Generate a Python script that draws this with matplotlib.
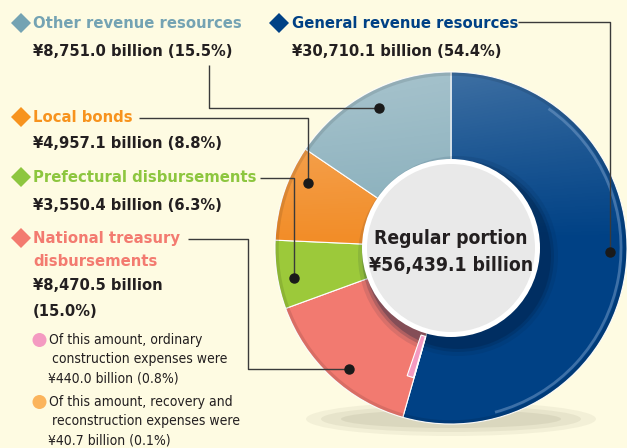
import os
import numpy as np
import matplotlib
matplotlib.use("Agg")
import matplotlib.pyplot as plt
from matplotlib import font_manager as fm
from matplotlib.patches import Wedge, Circle, Polygon, Ellipse, Arc

# ---- data (¥ billion) ----
labels = ["General revenue resources", "National treasury disbursements",
          "Prefectural disbursements", "Local bonds", "Other revenue resources"]
amounts = [30710.1, 8470.5, 3550.4, 4957.1, 8751.0]
shares = [54.4, 15.0, 6.3, 8.8, 15.5]
total_label = "Regular portion"

# parts of the national treasury disbursements
sub_amounts = [40.7, 440.0]          # recovery/reconstruction, ordinary construction
sub_shares = [0.1, 0.8]

slice_colors = ["#004185", "#f27a70", "#9cc93a", "#f28d28", "#86adba"]
title_colors = ["#004185", "#f37b70", "#8dc63f", "#f7931e", "#74a3b3"]
sub_colors = ["#fbb45c", "#f49ac1"]
txt = "#231f20"
bg = "#fefbe2"


# look for a narrow face, the original uses a condensed sans
def pick_font(bold):
    best, best_rank = None, 99
    for f in fm.fontManager.ttflist:
        key = (f.name + " " + os.path.basename(f.fname)).lower()
        if f.style != "normal":
            continue
        w = f.weight if isinstance(f.weight, int) else (700 if "bold" in str(f.weight) else 400)
        if bold != (w >= 600):
            continue
        if "liberation sans narrow" in key:
            rank = 0
        elif "condensed" in key or "narrow" in key or "condensed" in str(f.stretch):
            rank = 1 if "dejavu" in key else 2
        else:
            continue
        if rank < best_rank:
            best, best_rank = f.fname, rank
    if best:
        return fm.FontProperties(fname=best)
    return fm.FontProperties(family="DejaVu Sans", weight="bold" if bold else "normal")


fp_bold = pick_font(True)
fp_reg = pick_font(False)

fig = plt.figure(figsize=(6.27, 4.48), dpi=100, facecolor=bg)
ax = fig.add_axes([0, 0, 1, 1])
ax.set_facecolor(bg)
ax.set_xlim(0, 627)
ax.set_ylim(448, 0)
renderer = fig.canvas.get_renderer()


def fit_size(s, fp, target_px):
    t = fig.text(0, 0, s, fontproperties=fp, fontsize=10)
    w = t.get_window_extent(renderer).width
    t.remove()
    return 10 * target_px / w


cx, cy, R = 451, 248, 176
total = sum(amounts)

# soft shadow under the ring
for w, h, a in [(290, 34, 0.09), (260, 26, 0.11), (220, 18, 0.13)]:
    ax.add_patch(Ellipse((cx, 419), w, h, fc="#8a866a", ec="none", alpha=a, zorder=0))

# y axis is inverted -> counterclock in data = clockwise on screen, -90 = top
wedges, _ = ax.pie(amounts, colors=slice_colors, startangle=-90, counterclock=True,
                   center=(cx, cy), radius=R,
                   wedgeprops=dict(edgecolor="white", linewidth=0.8))
for wd in wedges:
    wd.set_zorder(1)

# light from above, fading out by the middle of the ring
yy, xx = np.mgrid[0:1:200j, 0:1:200j]
alpha = np.clip(0.30 * (1.0 - yy / 0.48) * (1.0 - 0.35 * xx), 0, 1)
grad = np.ones((200, 200, 4))
grad[..., 3] = alpha
im = ax.imshow(grad, extent=(cx - R, cx + R, cy + R, cy - R), zorder=1.5,
               interpolation="bilinear", aspect="auto")
im.set_clip_path(Circle((cx, cy), R, transform=ax.transData))

# darker bevel round the outside
ax.add_patch(Circle((cx, cy), R - 2, fc="none", ec="#000000", lw=2.5, alpha=0.10, zorder=1.8))

# sheen on the blue ring
blue_end = -90 + 360 * amounts[0] / total
ax.add_patch(Arc((cx, cy), 2 * (R - 6), 2 * (R - 6), theta1=-55, theta2=75,
                 color="#7a9fca", lw=2.0, alpha=0.5, zorder=2))

# dark shadow round the centre disc
for r, a in [(100, 0.10), (96, 0.18), (93, 0.25)]:
    ax.add_patch(Circle((cx + 7, cy + 8), r, fc="#001a3a", ec="none", alpha=a, zorder=3))

# thin slivers inside national treasury slice
t0 = blue_end
for amt, col in zip(sub_amounts, sub_colors):
    t1 = t0 + 360 * amt / total
    ax.add_patch(Wedge((cx, cy), 135, t0, t1, width=43, fc=col, ec="white", lw=0.8, zorder=4))
    t0 = t1

# centre disc
cfs = fit_size(total_label, fp_bold, 152)
ax.add_patch(Circle((cx, cy), 89, fc="white", ec="none", zorder=5))
ax.add_patch(Circle((cx, cy), 84, fc="#e9e9e9", ec="none", zorder=6))
ax.text(cx, cy - 10, total_label, ha="center", va="center", fontsize=cfs,
        fontproperties=fp_bold, color=txt, zorder=7)
ax.text(cx, cy + 18, "¥{:,.1f} billion".format(total), ha="center", va="center",
        fontsize=cfs, fontproperties=fp_bold, color=txt, zorder=7)


def diamond(x, y, col, s=10):
    ax.add_patch(Polygon([(x - s, y), (x, y - s), (x + s, y), (x, y + s)],
                         closed=True, fc=col, ec="none", zorder=5))


def value_str(i):
    return "¥{:,.1f} billion ({:.1f}%)".format(amounts[i], shares[i])


tfs = fit_size(labels[4], fp_bold, 208)
vfs = fit_size(value_str(4), fp_bold, 198)
nfs = fit_size("Of this amount, recovery and", fp_reg, 184)


def bold(x, y, s, col, fs):
    ax.text(x, y, s, fontproperties=fp_bold, fontsize=fs, color=col, va="center", zorder=7)


diamond(21, 23, title_colors[4])
bold(33, 23, labels[4], title_colors[4], tfs)
bold(33, 52, value_str(4), txt, vfs)

diamond(279, 23, title_colors[0])
bold(292, 23, labels[0], title_colors[0], tfs)
bold(292, 52, value_str(0), txt, vfs)

diamond(21, 117, title_colors[3])
bold(33, 117, labels[3], title_colors[3], tfs)
bold(33, 144, value_str(3), txt, vfs)

diamond(21, 177, title_colors[2])
bold(33, 177, labels[2], title_colors[2], tfs)
bold(33, 205, value_str(2), txt, vfs)

diamond(21, 238, title_colors[1])
bold(33, 238, "National treasury", title_colors[1], tfs)
bold(33, 261, "disbursements", title_colors[1], tfs)
bold(33, 286, "¥{:,.1f} billion".format(amounts[1]), txt, vfs)
bold(33, 312, "({:.1f}%)".format(shares[1]), txt, vfs)


def note(x, y, s):
    ax.text(x, y, s, fontproperties=fp_reg, fontsize=nfs, color=txt, va="center", zorder=7)


ax.add_patch(Circle((39.5, 340), 7, fc=sub_colors[1], ec="none", zorder=5))
note(49, 340, "Of this amount, ordinary")
note(52, 359, "construction expenses were")
note(48, 378, "¥{:,.1f} billion ({:.1f}%)".format(sub_amounts[1], sub_shares[1]))
ax.add_patch(Circle((39.5, 402), 7, fc=sub_colors[0], ec="none", zorder=5))
note(49, 402, "Of this amount, recovery and")
note(52, 421, "reconstruction expenses were")
note(48, 440, "¥{:,.1f} billion ({:.1f}%)".format(sub_amounts[0], sub_shares[0]))

# leader lines
leaders = [
    [(209, 65), (209, 108), (379, 108)],
    [(518, 22), (610, 22), (610, 252)],
    [(139, 118), (308, 118), (308, 183)],
    [(260, 178), (294, 178), (294, 278)],
    [(188, 239), (248, 239), (248, 369), (349, 369)],
]
for pts in leaders:
    xs = [p[0] for p in pts]
    ys = [p[1] for p in pts]
    ax.plot(xs, ys, color="#3a3a3a", lw=1.0, zorder=8, solid_capstyle="butt")
    ax.plot(xs[-1], ys[-1], "o", color="#1a1a1a", ms=6.5, zorder=9)

ax.set_xlim(0, 627)
ax.set_ylim(448, 0)
ax.set_aspect("equal")
ax.axis("off")

fig.savefig("out.png", dpi=100, facecolor=bg)
